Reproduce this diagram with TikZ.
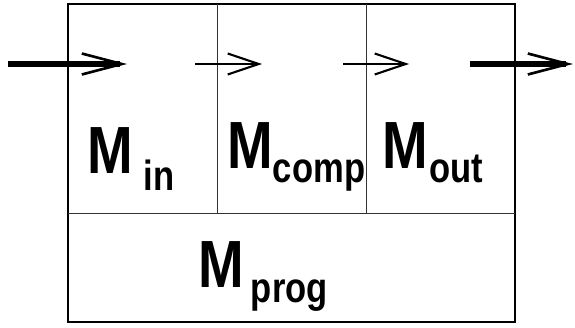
\documentclass[tikz,border=0pt]{standalone}
\usepackage{fontspec}
\setmainfont{Liberation Sans}[FakeStretch=0.82]
\usetikzlibrary{arrows.meta}

% module name: big M, kern, subscript, drop of subscript
\newcommand{\mname}[3]{{\fontsize{38}{38}\selectfont M}\kern#2\raisebox{-#3}{\fontsize{24}{24}\selectfont #1}}

\begin{document}
\begin{tikzpicture}[x=0.02cm,y=-0.02cm,
    frame/.style={line width=0.8pt},
    divider/.style={line width=0.5pt,black!80},
    bigflow/.style={line width=3.4pt,-{Straight Barb[length=0.8cm,width=0.42cm,line width=1.5pt]}},
    smallflow/.style={line width=0.6pt,-{Straight Barb[length=0.62cm,width=0.42cm,line width=1.2pt]}},
    modlabel/.style={anchor=base west,inner sep=0pt,font=\bfseries}]
  \useasboundingbox (0,0) rectangle (575,328);
  % frame and cells
  \draw[frame] (68,4) rectangle (515,322);
  \draw[divider] (68,213) -- (515,213);
  \draw[divider] (217,4) -- (217,213);
  \draw[divider] (366,4) -- (366,213);
  % flow
  \coordinate (inA) at (8,64);
  \coordinate (inB) at (127,64);
  \coordinate (compA) at (195,64);
  \coordinate (compB) at (262,64);
  \coordinate (outA) at (343,64);
  \coordinate (outB) at (409,64);
  \coordinate (exitA) at (470,64);
  \coordinate (exitB) at (573,64);
  \draw[bigflow] (inA) -- (inB);
  \draw[smallflow] (compA) -- (compB);
  \draw[smallflow] (outA) -- (outB);
  \draw[bigflow] (exitA) -- (exitB);
  % labels
  \node[modlabel] (min) at (87,173) {\mname{in}{6pt}{10pt}};
  \node[modlabel] (mcomp) at (227,168) {\mname{comp}{0pt}{8pt}};
  \node[modlabel] (mout) at (382,168) {\mname{out}{1pt}{8.5pt}};
  \node[modlabel] (mprog) at (198,287) {\mname{prog}{4pt}{9pt}};
\end{tikzpicture}
\end{document}
